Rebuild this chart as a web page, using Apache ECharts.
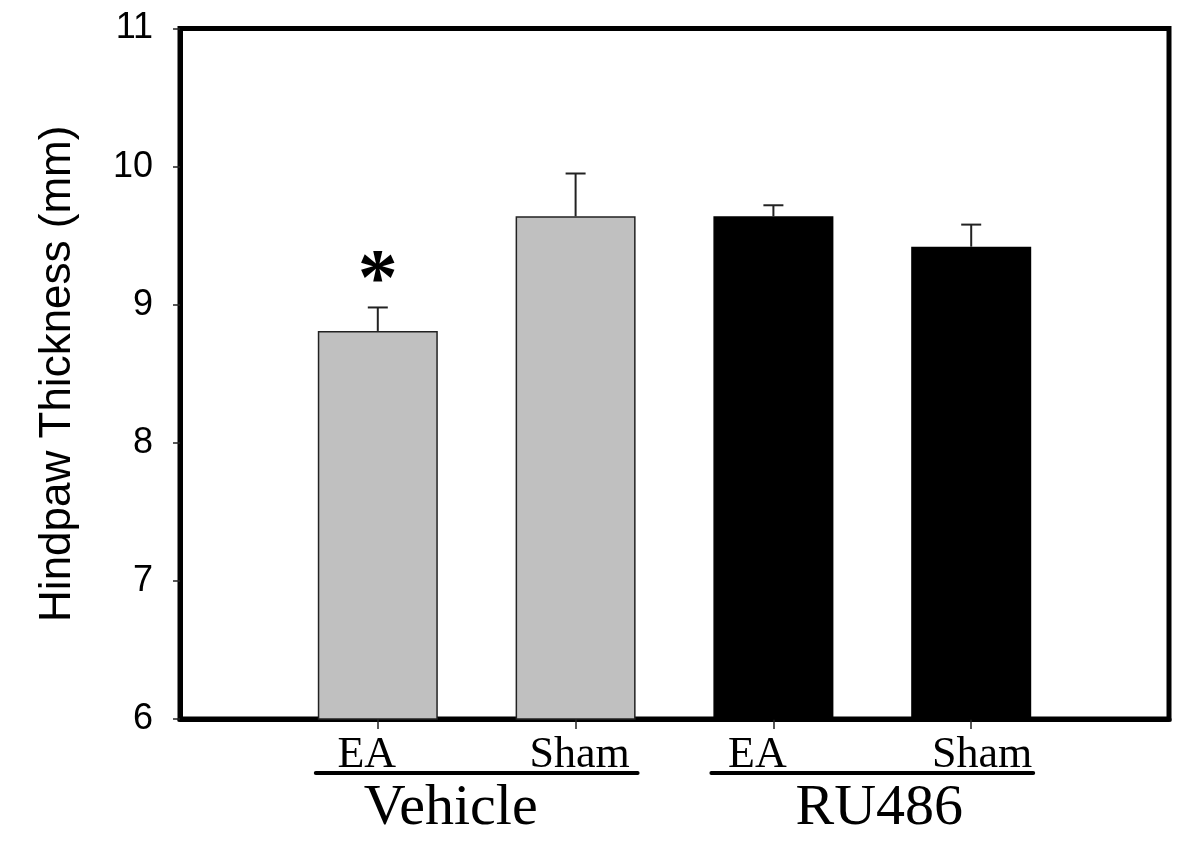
<!DOCTYPE html>
<html>
<head>
<meta charset="utf-8">
<script src="https://cdn.jsdelivr.net/npm/echarts@6/dist/echarts.min.js"></script>
<style>
  html, body { margin: 0; padding: 0; background: #fff; }
  #main { width: 1200px; height: 859px; }
</style>
</head>
<body>
<div id="main"></div>
<script>
// data (empty categories pad the two ends of the axis)
const categories = ['', 'EA', 'Sham', 'EA', 'Sham', ''];
const means = [null, 8.81, 9.64, 9.64, 9.42, null];
const sem = [null, 0.17, 0.31, 0.08, 0.16, null];
const barColors = ['', '#c0c0c0', '#c0c0c0', '#000000', '#000000', ''];
const marks = ['', '*', '', '', '', ''];
const groupNames = ['Vehicle', 'RU486'];
const groupFrom = [1, 3];
const groupTo = [2, 4];

// small horizontal nudges of the tick labels, as in the original figure
const labelShift = [0, -11, 4, -16, 11, 0];
const groupShift = [-26, 7];

const chart = echarts.init(document.getElementById('main'));

const barData = means.map((v, i) => v == null ? null : {
  value: v,
  itemStyle: {
    color: barColors[i],
    borderColor: barColors[i] === '#000000' ? '#000' : '#222',
    borderWidth: 1.5
  }
});

const errData = [];
means.forEach((v, i) => {
  if (v != null) errData.push([i, v, v + sem[i], marks[i]]);
});

const rich = {};
labelShift.forEach((s, i) => {
  rich['l' + i] = {
    fontFamily: 'Liberation Serif',
    fontSize: 44,
    color: '#000',
    padding: s < 0 ? [0, -2 * s, 0, 0] : [0, 0, 0, 2 * s]
  };
});

chart.setOption({
  animation: false,
  grid: {
    left: 180, right: 31, top: 28.5, bottom: 140,
    show: true, borderColor: '#000', borderWidth: 5
  },
  xAxis: {
    type: 'category',
    data: categories,
    boundaryGap: false,
    axisLine: { lineStyle: { color: '#000', width: 5 } },
    axisTick: {
      interval: (i) => categories[i] !== '',
      length: 10,
      lineStyle: { color: '#222', width: 1.5 }
    },
    axisLabel: {
      interval: 0,
      margin: 14,
      formatter: (v, i) => v === '' ? '' : '{l' + i + '|' + v + '}',
      rich: rich
    },
    splitLine: { show: false }
  },
  yAxis: {
    type: 'value',
    min: 6, max: 11, interval: 1,
    name: 'Hindpaw Thickness (mm)',
    nameLocation: 'middle',
    nameGap: 100,
    nameTextStyle: { fontFamily: 'Liberation Sans', fontSize: 44, color: '#000' },
    axisLine: { show: true, lineStyle: { color: '#000', width: 5 } },
    axisTick: { show: true, length: 7, lineStyle: { color: '#222', width: 1.5 } },
    axisLabel: { fontFamily: 'Liberation Sans', fontSize: 36, color: '#000', margin: 27 },
    splitLine: { show: false }
  },
  series: [
    {
      type: 'bar',
      data: barData,
      barWidth: 120,
      z: 2
    },
    {
      type: 'custom',
      data: errData,
      z: 3,
      renderItem: (params, api) => {
        const base = api.coord([api.value(0), api.value(1)]);
        const top = api.coord([api.value(0), api.value(2)]);
        const half = 10;
        const children = [
          { type: 'line', shape: { x1: base[0], y1: base[1], x2: top[0], y2: top[1] },
            style: { stroke: '#222', lineWidth: 2 } },
          { type: 'line', shape: { x1: top[0] - half, y1: top[1], x2: top[0] + half, y2: top[1] },
            style: { stroke: '#222', lineWidth: 2 } }
        ];
        const mark = api.value(3);
        if (mark) {
          children.push({
            type: 'text',
            style: {
              text: mark, x: top[0], y: top[1] + 16,
              fontFamily: 'Liberation Serif', fontWeight: 'bold', fontSize: 80,
              fill: '#000', align: 'center', verticalAlign: 'bottom'
            }
          });
        }
        return { type: 'group', children: children };
      }
    }
  ]
});

// group underlines and names below the tick labels
const graphics = [];
groupNames.forEach((name, g) => {
  const x1 = chart.convertToPixel({ xAxisIndex: 0 }, groupFrom[g]) - 62;
  const x2 = chart.convertToPixel({ xAxisIndex: 0 }, groupTo[g]) + 62;
  graphics.push({
    type: 'line',
    shape: { x1: x1, y1: 773, x2: x2, y2: 773 },
    style: { stroke: '#000', lineWidth: 4, lineCap: 'round' }
  });
  graphics.push({
    type: 'text',
    style: {
      text: name, x: (x1 + x2) / 2 + groupShift[g], y: 809,
      fontFamily: 'Liberation Serif', fontSize: 58, fill: '#000',
      align: 'center', verticalAlign: 'middle'
    }
  });
});
chart.setOption({ graphic: graphics });
</script>
</body>
</html>
